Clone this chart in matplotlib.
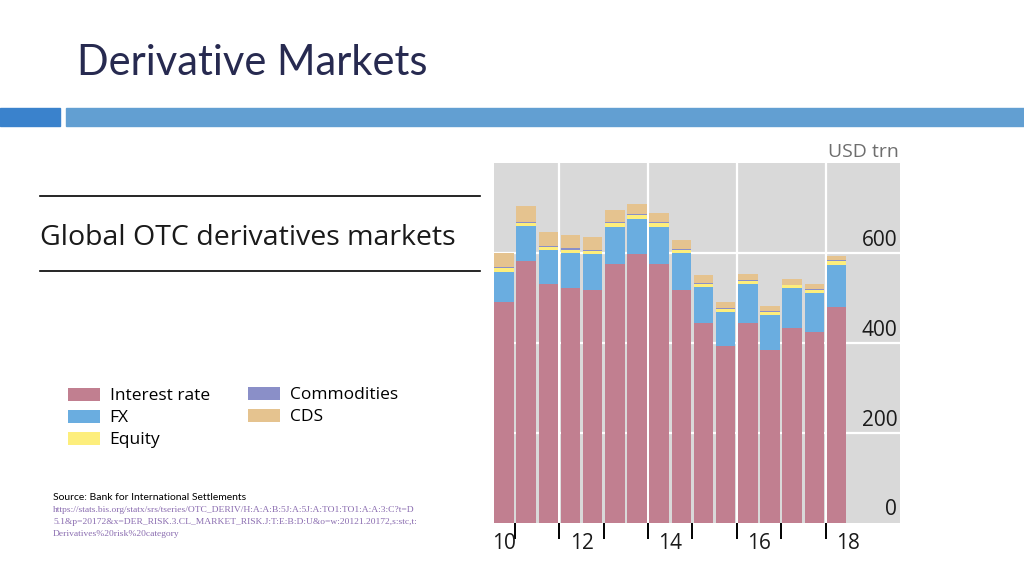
import matplotlib.pyplot as plt
from matplotlib.patches import Rectangle

# Global OTC derivatives, notional amounts outstanding [USD trn], H2 2010 .. H1 2018
periods = ['Dec10', 'Jun11', 'Dec11', 'Jun12', 'Dec12', 'Jun13', 'Dec13', 'Jun14',
           'Dec14', 'Jun15', 'Dec15', 'Jun16', 'Dec16', 'Jun17', 'Dec17', 'Jun18']
interest_rate = [491, 583, 531, 523, 518, 576, 598, 576, 518, 445, 393, 445, 384, 433, 425, 479]
fx = [68, 77, 76, 78, 80, 83, 79, 83, 83, 80, 75, 86, 78, 89, 87, 95]
equity = [7, 7, 6, 7, 7, 7, 7, 7, 6, 7, 7, 6, 6, 6, 6, 8]
commodities = [3, 3, 3, 3, 3, 3, 3, 3, 2, 2, 2, 2, 2, 2, 2, 2]
cds = [32, 36, 32, 30, 27, 27, 22, 20, 20, 18, 15, 15, 13, 13, 12, 10]

series_names = ['Interest rate', 'FX', 'Equity', 'Commodities', 'CDS']
series_colors = ['#c17f90', '#6aade0', '#fdee7c', '#8a8fc8', '#e5c38f']

year_labels = ['10', '12', '14', '16', '18']
year_label_pos = [0, 3.5, 7.5, 11.5, 15.5]
year_ticks = [0.5, 2.5, 4.5, 6.5, 8.5, 10.5, 12.5, 14.5]
year_grid = [2.5, 6.5, 10.5, 14.5]
y_ticks = [0, 200, 400, 600]

W, H = 1024, 576
fig = plt.figure(figsize=(W / 100, H / 100), dpi=100)
fig.patch.set_facecolor('white')

# slide decoration
fig.text(77 / W, 1 - 63 / H, 'Derivative Markets', fontsize=30, family='Lato',
         color='#272a50', va='center', ha='left')
fig.patches.append(Rectangle((0, 1 - 126 / H), 60 / W, 18 / H, transform=fig.transFigure,
                             color='#3a82cc', zorder=0))
fig.patches.append(Rectangle((66 / W, 1 - 126 / H), 1, 18 / H, transform=fig.transFigure,
                             color='#629fd2', zorder=0))

# left text block
for yy in (196, 271):
    fig.add_artist(plt.Line2D([40 / W, 480 / W], [1 - yy / H, 1 - yy / H],
                              transform=fig.transFigure, color='black', lw=1.2))
fig.text(40 / W, 1 - 238 / H, 'Global OTC derivatives markets', fontsize=20.5,
         family='Open Sans', color='#1a1a1a', va='center', ha='left')

# chart
ax = fig.add_axes([494 / W, 1 - 522.5 / H, 406 / W, 359.2 / H])
ax.set_facecolor('#d9d9d9')
x = list(range(len(periods)))
bottom = [0] * len(periods)
handles = []
for name, vals, col in zip(series_names, [interest_rate, fx, equity, commodities, cds], series_colors):
    b = ax.bar(x, vals, width=0.88, bottom=bottom, color=col, label=name, zorder=3, linewidth=0)
    handles.append(b)
    bottom = [b0 + v for b0, v in zip(bottom, vals)]

ax.set_xlim(-0.451, 17.86)
ax.set_ylim(0, 800)
for v in y_ticks[1:]:
    ax.axhline(v, color='white', lw=1.6, zorder=1)
for g in year_grid:
    ax.axvline(g, color='white', lw=1.6, zorder=1)
for s in ax.spines.values():
    s.set_visible(False)

ax.set_yticks([])
for v in y_ticks:
    ax.annotate(str(v), xy=(1, v), xycoords=('axes fraction', 'data'), xytext=(-2, 1.5),
                textcoords='offset points', ha='right', va='bottom', fontsize=15,
                family='Open Sans', color='#1a1a1a', zorder=4)
ax.annotate('USD trn', xy=(1, 800), xycoords=('axes fraction', 'data'), xytext=(-1, 2),
            textcoords='offset points', ha='right', va='bottom', fontsize=14,
            family='Open Sans', color='#6e6e6e')

ax.set_xticks(year_ticks)
ax.set_xticklabels([''] * len(year_ticks))
ax.tick_params(axis='x', which='major', length=11.5, width=1.4, color='black', direction='out', pad=0)
ax.set_xticks(year_label_pos, minor=True)
ax.set_xticklabels(year_labels, minor=True, fontsize=15, family='Open Sans', color='#1a1a1a')
ax.tick_params(axis='x', which='minor', length=0, pad=7.5)

# legend
leg_kw = dict(loc='upper left', frameon=False, prop={'family': 'Open Sans', 'size': 12.5},
              handlelength=1.85, handleheight=0.75, labelspacing=0.32, handletextpad=0.55,
              borderaxespad=0, borderpad=0)
fig.legend(handles[:3], series_names[:3], bbox_to_anchor=(68 / W, 1 - 388 / H), **leg_kw)
fig.legend(handles[3:], series_names[3:], bbox_to_anchor=(248 / W, 1 - 387 / H), **leg_kw)

# source
fig.text(53 / W, 1 - 497 / H, 'Source: Bank for International Settlements', fontsize=7.5,
         family='Lato', color='black', va='center', ha='left')
url_lines = ['https://stats.bis.org/statx/srs/tseries/OTC_DERIV/H:A:A:B:5J:A:5J:A:TO1:TO1:A:A:3:C?t=D',
             '5.1&p=20172&x=DER_RISK.3.CL_MARKET_RISK.J:T:E:B:D:U&o=w:20121.20172,s:stc,t:',
             'Derivatives%20risk%20category']
for i, line in enumerate(url_lines):
    fig.text(53 / W, 1 - (510 + 12 * i) / H, line, fontsize=6.8, family='Liberation Serif',
             color='#8a6cb0', va='center', ha='left')

fig.savefig('out.png', dpi=100)
